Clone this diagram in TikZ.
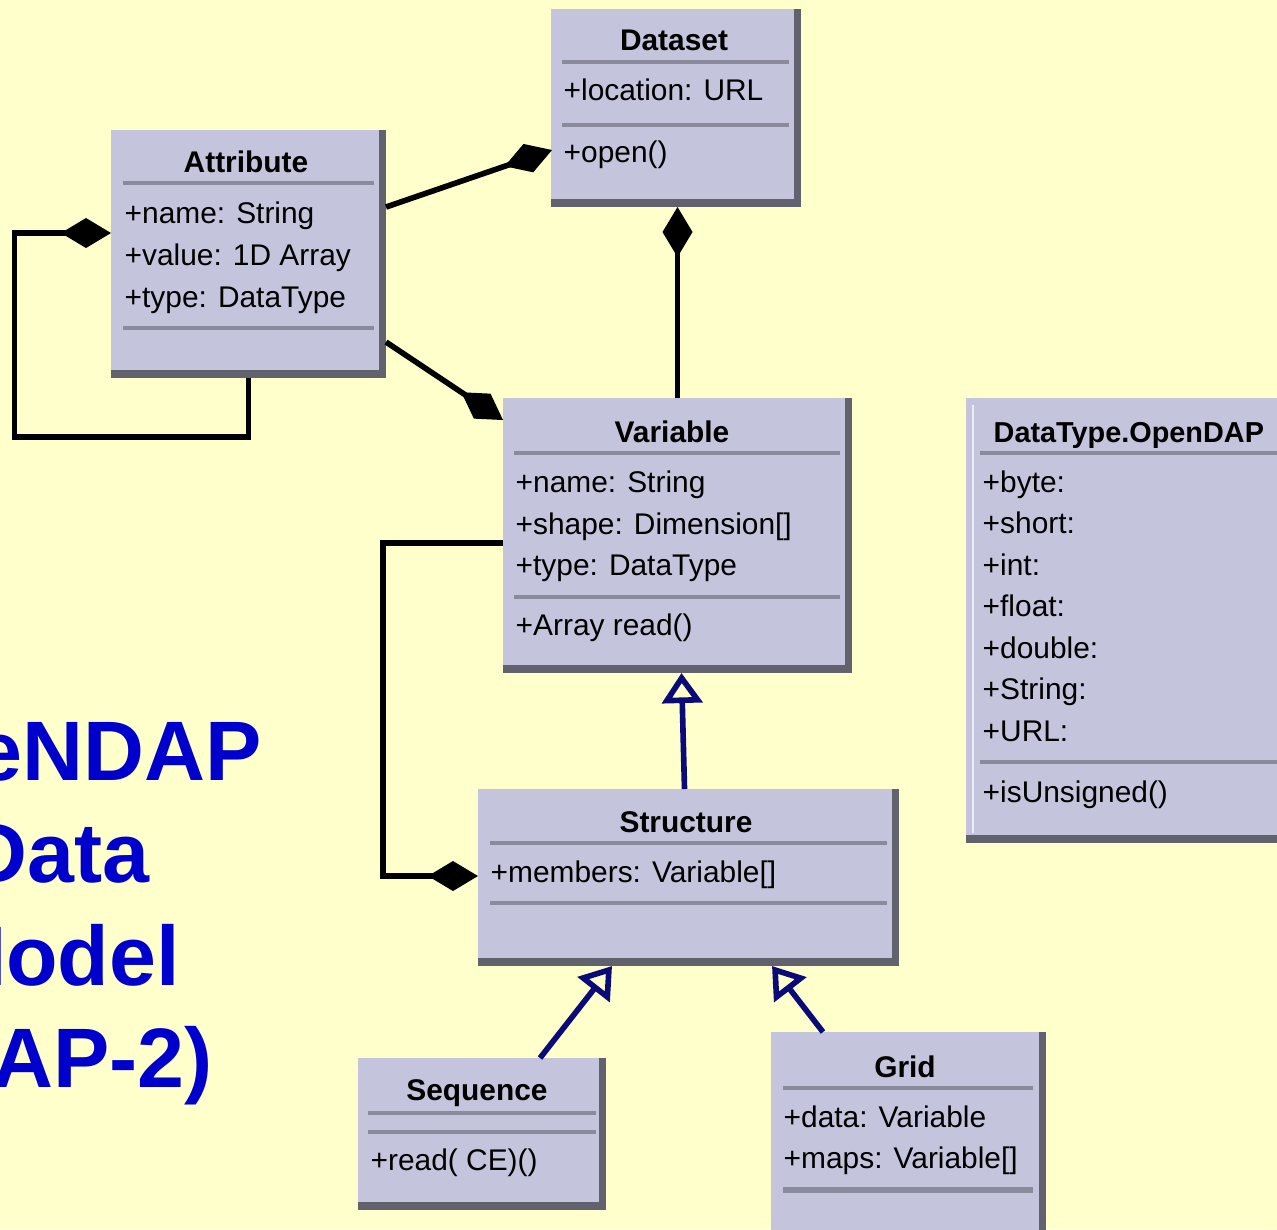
\documentclass[tikz,border=0pt]{standalone}
\usepackage{fontspec}
\setmainfont{Liberation Sans}
\usetikzlibrary{arrows.meta,calc,fit}
\definecolor{bg}{HTML}{FFFFCC}
\definecolor{boxc}{HTML}{C4C4DC}
\definecolor{shadowc}{HTML}{62626F}
\definecolor{sepc}{HTML}{8A8A9C}
\definecolor{navyc}{HTML}{0A0A78}
\definecolor{titleblue}{HTML}{0000CC}
\begin{document}
\begin{tikzpicture}[x=0.01cm,y=-0.01cm,
  umlbox/.style={fill=shadowc, draw=none, inner sep=0pt, outer sep=0pt,
    path picture={\fill[boxc] (path picture bounding box.north west) rectangle ($(path picture bounding box.south east)+(-7,-8)$);}},
  ctitle/.style={font=\fontsize{8.5}{10}\selectfont\bfseries, anchor=base, inner sep=0pt},
  cattr/.style={font=\fontsize{8.5}{10}\selectfont, anchor=base west, inner sep=0pt},
  sepline/.style={draw=sepc, line width=1.1pt},
  comp/.style={draw=black, line width=1.6pt, -{Diamond[length=0.5cm,width=0.3cm]}},
  gen/.style={draw=navyc, line width=1.6pt, -{Triangle[open,length=0.3cm,width=0.4cm]}},
  big/.style={font=\fontsize{24}{29}\selectfont\bfseries, text=titleblue, anchor=base, inner sep=0pt}]
\useasboundingbox (0,0) rectangle (1277,1229);
\clip (0,0) rectangle (1277,1229);
\fill[bg] (0,0) rectangle (1277,1229);

% title text (partly outside the frame, as in the reference)
\node[big] (t1) at (58,780) {OPeNDAP};
\node[big] (t2) at (58,882) {Data};
\node[big] (t3) at (58,985) {Model};
\node[big] (t4) at (58,1087) {(DAP-2)};

% Dataset
\node[umlbox, fit={(551,9) (801,207)}] (dataset) {};
\draw[sepline] (562,62) -- (789,62);
\draw[sepline] (562,125) -- (789,125);
\node[ctitle] (dataset-t) at (674,50) {Dataset};
\node[cattr] (dataset-a1) at (563,100) {+location: URL};
\node[cattr] (dataset-m1) at (563,162) {+open()};

% Attribute
\node[umlbox, fit={(111,130) (386,378)}] (attribute) {};
\draw[sepline] (123,183) -- (374,183);
\draw[sepline] (123,328) -- (374,328);
\node[ctitle] (attribute-t) at (246,172) {Attribute};
\node[cattr] (attribute-a1) at (124,223) {+name: String};
\node[cattr] (attribute-a2) at (124,265) {+value: 1D Array};
\node[cattr] (attribute-a3) at (124,307) {+type: DataType};

% Variable
\node[umlbox, fit={(503,398) (852,673)}] (variable) {};
\draw[sepline] (514,453) -- (840,453);
\draw[sepline] (514,597) -- (840,597);
\node[ctitle] (variable-t) at (672,442) {Variable};
\node[cattr] (variable-a1) at (515,492) {+name: String};
\node[cattr] (variable-a2) at (515,534) {+shape: Dimension[]};
\node[cattr] (variable-a3) at (515,575) {+type: DataType};
\node[cattr] (variable-m1) at (515,635) {+Array read()};

% DataType.OpenDAP
\node[umlbox, fit={(966,398) (1290,843)}] (datatype) {};
\draw[white!70!boxc, line width=0.6pt] (973,405) -- (973,833);
\draw[sepline] (980,453) -- (1277,453);
\draw[sepline] (980,762) -- (1277,762);
\node[ctitle, anchor=base west, font=\fontsize{8.2}{10}\selectfont\bfseries] (datatype-t) at (993,442) {DataType.OpenDAP};
\node[cattr] (datatype-a1) at (982,492) {+byte:};
\node[cattr] (datatype-a2) at (982,533) {+short:};
\node[cattr] (datatype-a3) at (982,575) {+int:};
\node[cattr] (datatype-a4) at (982,616) {+float:};
\node[cattr] (datatype-a5) at (982,658) {+double:};
\node[cattr] (datatype-a6) at (982,699) {+String:};
\node[cattr] (datatype-a7) at (982,741) {+URL:};
\node[cattr] (datatype-m1) at (982,802) {+isUnsigned()};

% Structure
\node[umlbox, fit={(478,789) (899,966)}] (structure) {};
\draw[sepline] (490,843) -- (887,843);
\draw[sepline] (490,903) -- (887,903);
\node[ctitle] (structure-t) at (686,832) {Structure};
\node[cattr] (structure-a1) at (490,882) {+members: Variable[]};

% Sequence
\node[umlbox, fit={(358,1058) (606,1210)}] (sequence) {};
\draw[sepline] (368,1113) -- (596,1113);
\draw[sepline] (368,1132) -- (596,1132);
\node[ctitle] (sequence-t) at (477,1100) {Sequence};
\node[cattr] (sequence-m1) at (370,1170) {+read( CE)()};

% Grid
\node[umlbox, fit={(771,1032) (1046,1240)}] (grid) {};
\draw[sepline] (783,1088) -- (1033,1088);
\draw[sepline, line width=1.7pt] (783,1190) -- (1033,1190);
\node[ctitle] (grid-t) at (905,1077) {Grid};
\node[cattr] (grid-a1) at (783,1127) {+data: Variable};
\node[cattr] (grid-a2) at (783,1168) {+maps: Variable[]};

% composition connectors
\draw[comp] ($(attribute.north east)+(0,77)$) -- ($(dataset.north west)+(1,141)$);
\draw[comp] (variable.north) -- (variable.north |- dataset.south);
\draw[comp] ($(attribute.north east)+(0,212)$) -- ($(variable.north west)+(0,22)$);
\draw[comp] (attribute.south) -- ++(0,59) -- ++(-234,0) -- ++(0,-204) -- ($(attribute.north west)+(0,103)$);
\draw[comp] ($(variable.north west)+(0,145)$) -- ++(-120,0) |- ($(structure.north west)+(0,87)$);

% generalization connectors
\draw[gen] ($(structure.north)+(-4,0)$) -- ($(variable.south)+(4,0)$);
\draw[gen] ($(sequence.north west)+(182,0)$) -- ($(structure.south west)+(134,0)$);
\draw[gen] ($(grid.north west)+(52,0)$) -- ($(structure.south west)+(294,0)$);
\end{tikzpicture}
\end{document}
